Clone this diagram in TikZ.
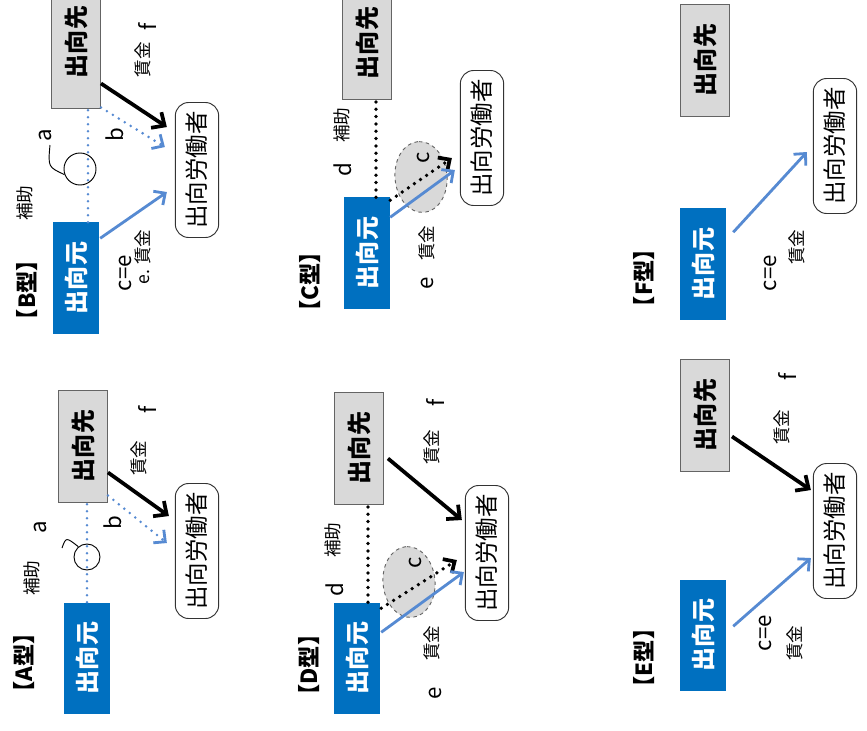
\documentclass[tikz,border=0pt]{standalone}
\usepackage{fontspec}
\setmainfont{Noto Sans CJK JP}
\usepackage{tikz}
\usetikzlibrary{shapes.geometric}
\usetikzlibrary{arrows.meta}
\usetikzlibrary{calc}

\definecolor{motoBlue}{RGB}{0,112,192}
\definecolor{arrowBlue}{RGB}{86,138,210}
\definecolor{sakiGray}{RGB}{217,217,217}
\definecolor{edgeGray}{RGB}{100,100,100}

\begin{document}
\begin{tikzpicture}[
        x=0.03cm, y=-0.03cm,
        defaultS/.style={
            rotate=90,
            inner sep=0pt,
            align=center
        },
        motoS/.style={
            defaultS,
            rectangle,
            fill=motoBlue,
            text=white,
            minimum width=3.33cm,
            minimum height=1.38cm,
            font=\fontsize{20.5}{22}\selectfont\bfseries
        },
        sakiS/.style={
            defaultS,
            rectangle,
            fill=sakiGray,
            draw=edgeGray,
            line width=0.8pt,
            minimum width=3.36cm,
            minimum height=1.47cm,
            font=\fontsize{20.5}{22}\selectfont\bfseries
        },
        roudouS/.style={
            defaultS,
            rectangle,
            rounded corners=0.4cm,
            fill=white,
            draw=black!80,
            line width=0.8pt,
            minimum width=4.05cm,
            minimum height=1.3cm,
            font=\fontsize{20}{22}\selectfont
        },
        titleS/.style={defaultS, font=\fontsize{19}{21}\selectfont\bfseries},
        labelS/.style={defaultS, font=\fontsize{15}{17}\selectfont},
        letterS/.style={defaultS, font=\fontsize{19}{21}\selectfont},
        ringS/.style={circle, draw, line width=0.8pt, inner sep=0pt},
        ovalS/.style={
            ellipse,
            rotate=95,
            fill=sakiGray,
            draw=edgeGray,
            dashed,
            line width=0.8pt,
            inner sep=0pt,
            minimum width=2.13cm,
            minimum height=1.56cm
        },
        blackA/.style={line width=3.2pt, -{Straight Barb[length=3mm,width=5.6mm]}},
        blueA/.style={line width=2.4pt, arrowBlue, -{Straight Barb[length=2.6mm,width=5mm]}},
        blueDotS/.style={line width=2.4pt, arrowBlue, line cap=round, dash pattern=on 0pt off 2.1mm},
        blackDotS/.style={line width=3.2pt, black, line cap=round, dash pattern=on 0pt off 2.2mm},
        blueDotA/.style={blueDotS, -{Straight Barb[length=2.6mm,width=5mm]}},
        blackDotA/.style={blackDotS, -{Straight Barb[length=2.6mm,width=5mm]}},
    ]

    \fill[white] (0,0) rectangle (867,731);
    \useasboundingbox (0,0) rectangle (867,731);

    % A型
    \node[titleS] (titleA) at (24,663) {【A型】};
    \node[motoS] (motoA) at (87,658) {出向元};
    \node[sakiS] (sakiA) at (83,446) {出向先};
    \node[roudouS] (roudouA) at (197,551) {出向労働者};
    \node[ringS, minimum size=0.78cm] (ringA) at (87,557) {};
    \node[labelS] (hojoA) at (32,578) {補助};
    \node[letterS] (aA) at (40,527) {a};
    \node[letterS] (bA) at (113,523) {b};
    \node[labelS] (chinA) at (139,458) {賃金};
    \node[letterS] (fA) at (147,410) {f};
    \draw[blueDotS] (motoA.east) -- (motoA.east |- sakiA.west);
    \draw[line width=0.8pt] ($(aA)+(22,21)$) .. controls ($(aA)+(26,10)$) .. (ringA.130);
    \draw[blackA] ($(sakiA.south west)+(0,-30)$) -- ($(roudouA.north east)+(-6,33)$);
    \draw[blueDotA] ($(sakiA.south west)+(0,-7)$) -- ($(roudouA.north east)+(-8,60)$);

    % B型
    \node[titleS] (titleB) at (27,290) {【B型】};
    \node[motoS] (motoB) at (76,278) {出向元};
    \node[sakiS, minimum width=3.96cm] (sakiB) at (76,42) {出向先};
    \node[roudouS] (roudouB) at (197,170) {出向労働者};
    \node[ringS, minimum size=0.96cm] (ringB) at (80,169) {};
    \node[labelS] (hojoB) at (25,203) {補助};
    \node[letterS] (aB) at (45,135) {a};
    \node[letterS] (bB) at (115,135) {b};
    \node[labelS] (chinB) at (143,60) {賃金};
    \node[letterS] (fB) at (147,27) {f};
    \node[letterS] (ceB) at (125,273) {c=e};
    \node[labelS] (chinB2) at (143,257) {e. 賃金};
    \coordinate (hojoB1) at ($(motoB.east)+(12,0)$);
    \draw[blueDotS] (hojoB1) -- (hojoB1 |- sakiB.west);
    \draw[line width=0.8pt] ($(aB)+(5,10)$) .. controls ($(aB)+(3,32)$) .. (ringB.200);
    \draw[blackA] ($(sakiB.south west)+(0,-25)$) -- ($(roudouB.north east)+(-8,25)$);
    \draw[blueDotA] ($(sakiB.south west)+(0,-1)$) -- ($(roudouB.north east)+(-10,45)$);
    \draw[blueA] ($(motoB.south east)+(1,16)$) -- ($(roudouB.north east)+(-8,90)$);

    % C型
    \node[titleS] (titleC) at (310,282) {【C型】};
    \node[motoS] (motoC) at (367,253) {出向元};
    \node[sakiS] (sakiC) at (367,43) {出向先};
    \node[roudouS] (roudouC) at (482,138) {出向労働者};
    \node[ovalS] (ovalC) at (421,177) {};
    \node[letterS] (cC) at (423,158) {c};
    \node[letterS] (dC) at (343,170) {d};
    \node[labelS] (hojoC) at (342,125) {補助};
    \node[labelS] (chinC) at (427,243) {賃金};
    \node[letterS] (eC) at (427,283) {e};
    \coordinate (hojoC1) at ($(motoC.east)+(9,0)$);
    \draw[blackDotS] (hojoC1) -- (hojoC1 |- sakiC.west);
    \draw[blackDotA] ($(motoC.south east)+(0,3)$) -- ($(roudouC.north east)+(-8,88)$);
    \draw[blueA] ($(motoC.south east)+(0,20)$) -- ($(roudouC.north east)+(-5,100)$);

    % D型
    \node[titleS] (titleD) at (309,665) {【D型】};
    \node[motoS] (motoD) at (357,658) {出向元};
    \node[sakiS] (sakiD) at (359,448) {出向先};
    \node[roudouS] (roudouD) at (487,553) {出向労働者};
    \node[ovalS] (ovalD) at (409,582) {};
    \node[letterS] (cD) at (415,563) {c};
    \node[letterS] (dD) at (335,590) {d};
    \node[labelS] (hojoD) at (333,540) {補助};
    \node[labelS] (chinD) at (432,643) {賃金};
    \node[letterS] (eD) at (435,693) {e};
    \node[labelS] (chinD2) at (432,447) {賃金};
    \node[letterS] (fD) at (435,403) {f};
    \coordinate (hojoD1) at ($(motoD.east)+(11,0)$);
    \draw[blackDotS] (hojoD1) -- (hojoD1 |- sakiD.west);
    \draw[blackA] ($(sakiD.south west)+(4,-46)$) -- ($(roudouD.north east)+(-3,35)$);
    \draw[blackDotA] ($(motoD.south east)+(1,6)$) -- ($(roudouD.north east)+(-8,75)$);
    \draw[blueA] ($(motoD.south east)+(1,30)$) -- ($(roudouD.north east)+(-1,87)$);

    % E型
    \node[titleS] (titleE) at (644,658) {【E型】};
    \node[motoS] (motoE) at (703,635) {出向元};
    \node[sakiS] (sakiE) at (705,415) {出向先};
    \node[roudouS] (roudouE) at (835,531) {出向労働者};
    \node[letterS] (ceE) at (765,633) {c=e};
    \node[labelS] (chinE) at (795,643) {賃金};
    \node[labelS] (chinE2) at (782,427) {賃金};
    \node[letterS] (fE) at (787,377) {f};
    \draw[blackA] ($(sakiE.south west)+(2,-35)$) -- ($(roudouE.north east)+(-2,27)$);
    \draw[blueA] ($(motoE.south east)+(7,47)$) -- ($(roudouE.north east)+(-2,95)$);

    % F型
    \node[titleS] (titleF) at (644,278) {【F型】};
    \node[motoS] (motoF) at (703,264) {出向元};
    \node[sakiS] (sakiF) at (705,60) {出向先};
    \node[roudouS] (roudouF) at (835,146) {出向労働者};
    \node[letterS] (ceF) at (770,273) {c=e};
    \node[labelS] (chinF) at (797,247) {賃金};
    \draw[blueA] ($(motoF.south east)+(7,24)$) -- ($(roudouF.north east)+(-6,74)$);

\end{tikzpicture}
\end{document}
